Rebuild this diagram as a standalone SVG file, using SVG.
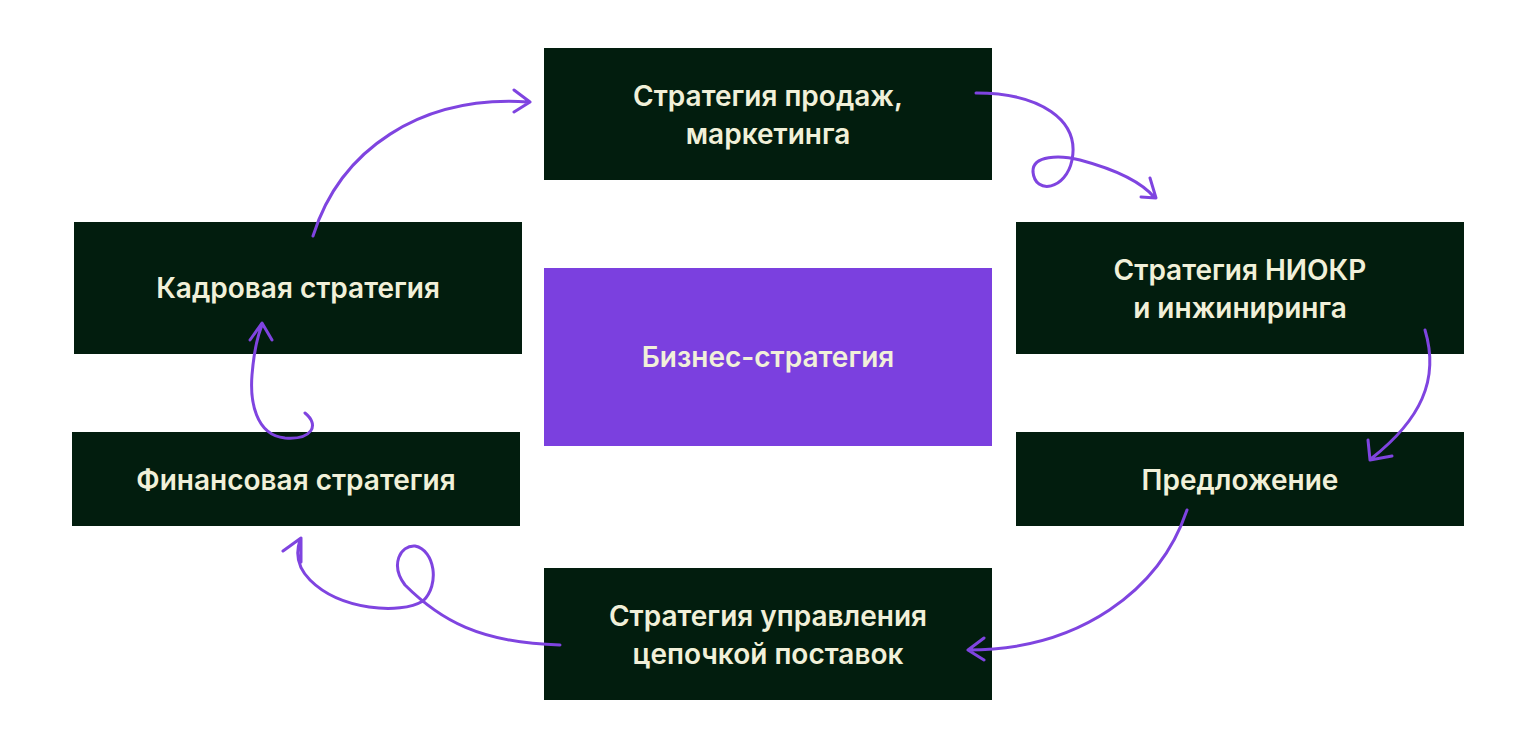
<svg xmlns="http://www.w3.org/2000/svg" width="1536" height="748" viewBox="0 0 1536 748">
<style>
.b{fill:#021d0e}
.t{font-family:"Inter","Liberation Sans",sans-serif;font-size:28px;font-weight:600;fill:#f1f0d9;text-anchor:middle}
.c path{fill:none;stroke:#7f44e0;stroke-width:3;stroke-linecap:round;stroke-linejoin:round}
</style>
<rect width="1536" height="748" fill="#fff"/>
<g id="sales"><rect class="b" x="544" y="48" width="448" height="132"/><text class="t" x="768" y="106">Стратегия продаж,</text><text class="t" x="768" y="144">маркетинга</text></g>
<g id="rnd"><rect class="b" x="1016" y="222" width="448" height="132"/><text class="t" x="1240" y="280">Стратегия НИОКР</text><text class="t" x="1240" y="318">и инжиниринга</text></g>
<g id="offer"><rect class="b" x="1016" y="432" width="448" height="94"/><text class="t" x="1240" y="490">Предложение</text></g>
<g id="supply"><rect class="b" x="544" y="568" width="448" height="132"/><text class="t" x="768" y="626">Стратегия управления</text><text class="t" x="768" y="664">цепочкой поставок</text></g>
<g id="fin"><rect class="b" x="72" y="432" width="448" height="94"/><text class="t" x="296" y="490">Финансовая стратегия</text></g>
<g id="hr"><rect class="b" x="74" y="222" width="448" height="132"/><text class="t" x="298" y="298">Кадровая стратегия</text></g>
<g id="biz"><rect x="544" y="268" width="448" height="178" fill="#7b40df"/><text class="t" x="768" y="367">Бизнес-стратегия</text></g>
<g class="c" id="connectors">
<path d="M313,236 C340,150 420,95 528,102 M514,90 L530,102 L514,112"/>
<path d="M976,93 C1040,93 1080,120 1072,160 C1066,190 1035,195 1033,172 C1032,155 1060,155 1080,160 C1110,168 1140,180 1155,198 M1141,197 L1156,198 L1150,178"/>
<path d="M1425,330 C1440,380 1420,420 1372,458 M1368,440 L1370,460 L1392,456"/>
<path d="M1187,510 C1160,590 1080,650 968,650 M984,638 L968,650 L984,660"/>
<path d="M560,645 C480,643 440,620 405,585 C390,565 400,545 415,546 C435,550 440,585 423,601 C400,615 340,610 310,580 C298,568 295,555 300,540 M283,551 L301,538 L301,562"/>
<path d="M305,413 C320,425 312,440 285,438 C255,435 250,400 252,375 C254,350 258,335 262,325 M250,340 L262,323 L272,340"/>
</g>
</svg>
